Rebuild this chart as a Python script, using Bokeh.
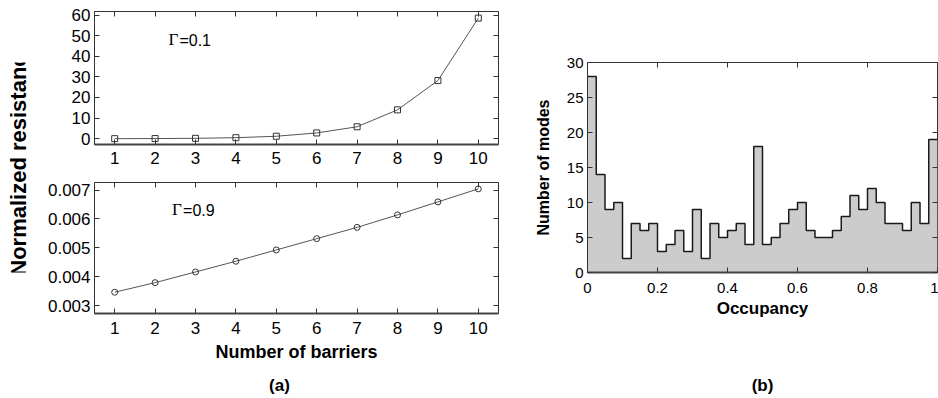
import math
import numpy as np
from bokeh.plotting import figure
from bokeh.models import FixedTicker, LinearAxis, Label, Range1d
from bokeh.layouts import row, column
from bokeh.embed import file_html
from bokeh.resources import INLINE

# ---------------- data ----------------
barriers = [1, 2, 3, 4, 5, 6, 7, 8, 9, 10]
res_gamma01 = [0.03, 0.08, 0.2, 0.5, 1.2, 2.8, 5.8, 14.0, 28.2, 58.5]
res_gamma09 = [0.00347, 0.00380, 0.00417, 0.00454, 0.00493,
               0.00532, 0.00571, 0.00614, 0.00659, 0.00704]

occupancy_counts = [28, 14, 9, 10, 2, 7, 6, 7, 3, 4,
                    6, 3, 9, 2, 7, 5, 6, 7, 4, 18,
                    4, 5, 7, 9, 10, 6, 5, 5, 6, 8,
                    11, 9, 12, 10, 7, 7, 6, 10, 7, 19]
occupancy_edges = np.linspace(0.0, 1.0, len(occupancy_counts) + 1)

barrier_ticks = [1, 2, 3, 4, 5, 6, 7, 8, 9, 10]
top_yticks = [0, 10, 20, 30, 40, 50, 60]
bot_yticks = [0.003, 0.004, 0.005, 0.006, 0.007]
bot_ylabels = ["0.003", "0.004", "0.005", "0.006", "0.007"]
occ_xticks = [0, 0.2, 0.4, 0.6, 0.8, 1.0]
occ_xlabels = ["0", "0.2", "0.4", "0.6", "0.8", "1"]
occ_yticks = [0, 5, 10, 15, 20, 25, 30]

FONT = "Liberation Sans"
FRAME = "#333333"


def base_fig(width, height, xr, yr, left, right, top, bottom):
    p = figure(width=width, height=height, x_range=Range1d(*xr), y_range=Range1d(*yr),
               output_backend="svg", toolbar_location=None,
               min_border_left=left, min_border_right=right,
               min_border_top=top, min_border_bottom=bottom)
    p.grid.grid_line_color = None
    p.outline_line_color = FRAME
    p.outline_line_width = 1
    p.background_fill_color = "white"
    p.border_fill_color = "white"
    return p


def style_axes(p, xticks, yticks, tick_font, xstand, ystand,
               xover=None, yover=None):
    xa = p.xaxis[0]
    ya = p.yaxis[0]
    xa.ticker = FixedTicker(ticks=xticks)
    ya.ticker = FixedTicker(ticks=yticks)
    if xover:
        xa.major_label_overrides = xover
    if yover:
        ya.major_label_overrides = yover
    for ax in (xa, ya):
        ax.major_tick_in = 5
        ax.major_tick_out = 0
        ax.minor_tick_line_color = None
        ax.axis_line_color = FRAME
        ax.major_tick_line_color = FRAME
        ax.major_label_text_font = FONT
        ax.major_label_text_font_size = tick_font
        ax.major_label_text_color = "black"
        ax.axis_label_text_font = FONT
        ax.axis_label_text_font_style = "bold"
        ax.axis_label_text_color = "black"
    xa.axis_line_width = 2
    xa.axis_line_color = "#444444"
    xa.major_label_standoff = xstand
    ya.major_label_standoff = ystand
    for tks, side in ((xticks, "above"), (yticks, "right")):
        ax = LinearAxis(ticker=FixedTicker(ticks=tks), major_label_text_font_size="1px",
                        major_label_text_color=None, major_label_standoff=0,
                        major_tick_in=5, major_tick_out=0,
                        minor_tick_line_color=None, axis_line_color=None,
                        major_tick_line_color=FRAME)
        p.add_layout(ax, side)
    return xa, ya


# ---------------- shared y label for (a) ----------------
ylab = figure(width=30, height=370, x_range=Range1d(0, 30), y_range=Range1d(0, 370),
              x_axis_type=None, y_axis_type=None, output_backend="svg",
              toolbar_location=None, min_border=0)
ylab.outline_line_color = None
ylab.grid.visible = False
ylab.add_layout(Label(x=17.5, y=200, text="Normalized resistance", angle=math.pi / 2,
                      text_align="center", text_baseline="middle",
                      text_font=FONT, text_font_style="bold", text_font_size="22px",
                      text_color="black"))

# ---------------- (a) top: Gamma = 0.1 ----------------
pt = base_fig(500, 172, (0.5, 10.5), (-2.8, 61.7), 64, 32, 11, 28)
style_axes(pt, barrier_ticks, top_yticks, "17px", 7, 4)
pt.line(barriers, res_gamma01, line_color="#555555", line_width=1)
pt.scatter(barriers, res_gamma01, marker="square", size=6, fill_color=None,
           line_color="#333333", line_width=1)
pt.add_layout(Label(x=2.33, y=43.5, text="Γ", text_font="Liberation Serif",
                    text_font_size="17px", text_color="black"))
pt.add_layout(Label(x=2.33, y=43.5, x_offset=11, text="=0.1", text_font=FONT,
                    text_font_size="16px", text_color="black"))

# ---------------- (a) bottom: Gamma = 0.9 ----------------
pb = base_fig(500, 198, (0.5, 10.5), (0.002735, 0.00726), 64, 32, 10, 57)
pbx, pby = style_axes(pb, barrier_ticks, bot_yticks, "17px", 8, 4,
                      yover=dict(zip(bot_yticks, bot_ylabels)))
pbx.axis_label = "Number of barriers"
pbx.axis_label_text_font_size = "18px"
pbx.axis_label_standoff = 5
pb.line(barriers, res_gamma09, line_color="#555555", line_width=1)
pb.scatter(barriers, res_gamma09, marker="circle", size=6, fill_color=None,
           line_color="#333333", line_width=1)
pb.add_layout(Label(x=2.42, y=0.00599, text="Γ", text_font="Liberation Serif",
                    text_font_size="17px", text_color="black"))
pb.add_layout(Label(x=2.42, y=0.00599, x_offset=11, text="=0.9", text_font=FONT,
                    text_font_size="16px", text_color="black"))

# ---------------- (b) histogram ----------------
pr = base_fig(408, 370, (0, 1), (0, 30), 57, 1, 62, 98)
step_x = list(occupancy_edges[:-1]) + [occupancy_edges[-1]]
step_y = occupancy_counts + [occupancy_counts[-1]]
pr.varea_step(x=step_x, y1=0, y2=step_y, step_mode="after", fill_color="#cccccc")
pr.step(x=step_x, y=step_y, mode="after", line_color="#1a1a1a", line_width=1.5)
prx, pry = style_axes(pr, occ_xticks, occ_yticks, "15px", 10, 4,
                      xover=dict(zip(occ_xticks, occ_xlabels)))
prx.axis_label = "Occupancy"
prx.axis_label_text_font_size = "17px"
prx.axis_label_standoff = 3
pry.axis_label = "Number of modes"
pry.axis_label_text_font_size = "16px"
pry.axis_label_standoff = 12

# ---------------- panel captions ----------------
cap = figure(width=938, height=28, x_range=Range1d(0, 938), y_range=Range1d(0, 28),
             x_axis_type=None, y_axis_type=None, output_backend="svg",
             toolbar_location=None, min_border=0)
cap.outline_line_color = None
cap.grid.visible = False
for cx, txt in ((279, "(a)"), (762, "(b)")):
    cap.add_layout(Label(x=cx, y=13, text=txt, text_align="center", text_baseline="middle",
                         text_font=FONT, text_font_style="bold", text_font_size="17px",
                         text_color="black"))

layout = column(row(ylab, column(pt, pb), pr), cap)

with open("out.html", "w") as f:
    f.write(file_html(layout, INLINE))
